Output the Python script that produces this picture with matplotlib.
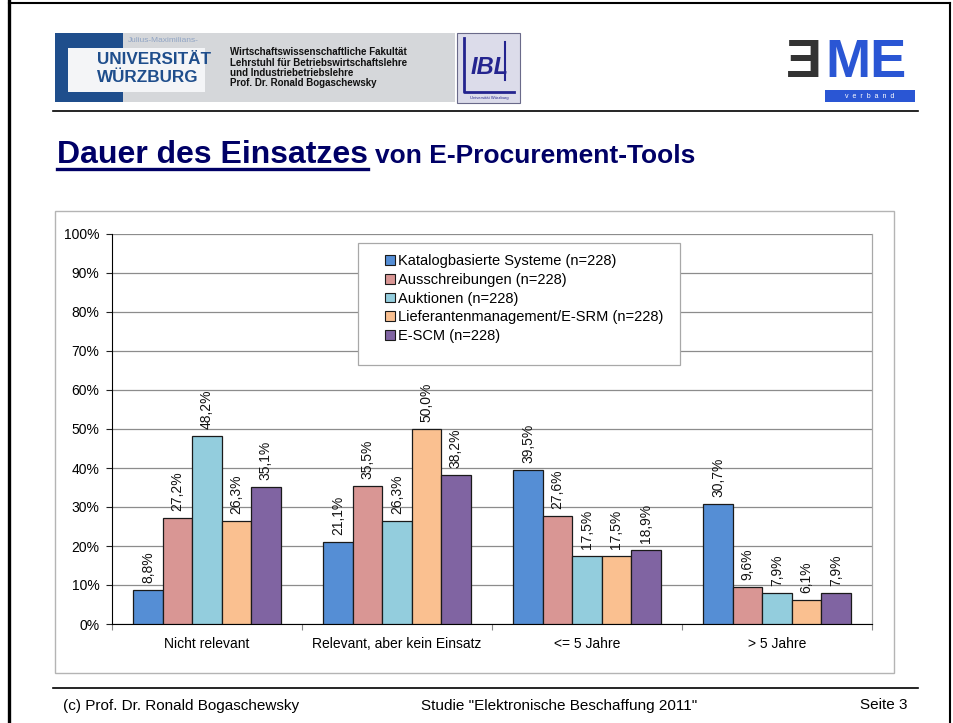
import matplotlib
matplotlib.use("Agg")
import matplotlib.pyplot as plt
from matplotlib.patches import Rectangle, Patch
from matplotlib.lines import Line2D
import numpy as np

plt.rcParams['font.family'] = ['Liberation Sans', 'DejaVu Sans']

# ---------------- data ----------------
categories = ["Nicht relevant", "Relevant, aber kein Einsatz", "<= 5 Jahre", "> 5 Jahre"]
series_names = ["Katalogbasierte Systeme (n=228)", "Ausschreibungen (n=228)", "Auktionen (n=228)",
                "Lieferantenmanagement/E-SRM (n=228)", "E-SCM (n=228)"]
katalog = [8.8, 21.1, 39.5, 30.7]
ausschreibungen = [27.2, 35.5, 27.6, 9.6]
auktionen = [48.2, 26.3, 17.5, 7.9]
lieferanten = [26.3, 50.0, 17.5, 6.1]
escm = [35.1, 38.2, 18.9, 7.9]
series_values = [katalog, ausschreibungen, auktionen, lieferanten, escm]
colors = ["#558ED5", "#D99694", "#93CDDD", "#FAC090", "#8064A2"]
ytick_vals = list(range(0, 101, 10))

W, H = 954, 723
fig = plt.figure(figsize=(W / 100, H / 100), dpi=100)


def fx(x):
    return x / W


def fy(y):
    return 1 - y / H


# ---------------- slide frame ----------------
fig.add_artist(Line2D([fx(9), fx(9)], [fy(0), fy(723)], color='black', lw=2.4))
fig.add_artist(Line2D([fx(9), fx(950)], [fy(2.5), fy(2.5)], color='black', lw=1.5))
fig.add_artist(Line2D([fx(950), fx(950)], [fy(2.5), fy(723)], color='black', lw=1.5))

# ---------------- header logos ----------------
# Wuerzburg logo
fig.add_artist(Rectangle((fx(55), fy(102)), fx(455) - fx(55), fy(33) - fy(102),
                         facecolor='#d5d7da', edgecolor='none'))
fig.add_artist(Rectangle((fx(55), fy(102)), fx(123) - fx(55), fy(33) - fy(102),
                         facecolor='#1f4e8c', edgecolor='none'))
fig.add_artist(Rectangle((fx(68), fy(92)), fx(205) - fx(68), fy(48) - fy(92),
                         facecolor='#f4f5f7', edgecolor='none'))
fig.text(fx(128), fy(40), "Julius-Maximilians-", fontsize=6, color='#90a4c4',
         ha='left', va='center')
fig.text(fx(97), fy(60), "UNIVERSITÄT", fontsize=12.3, fontweight='bold', color='#1f4e8c',
         ha='left', va='center')
fig.text(fx(97), fy(78), "WÜRZBURG", fontsize=12.3, fontweight='bold', color='#1f4e8c',
         ha='left', va='center')
hdr_lines = ["Wirtschaftswissenschaftliche Fakultät", "Lehrstuhl für Betriebswirtschaftslehre",
             "und Industriebetriebslehre", "Prof. Dr. Ronald Bogaschewsky"]
for k, t in enumerate(hdr_lines):
    fig.text(fx(230), fy(52 + k * 10.5), t, fontsize=7, fontweight='bold', color='#111111',
             ha='left', va='center')

# LIBL logo
fig.add_artist(Rectangle((fx(457), fy(103)), fx(520) - fx(457), fy(33) - fy(103),
                         facecolor='#dcdcea', edgecolor='#6a6a8a', lw=0.8))
fig.add_artist(Line2D([fx(464), fx(464), fx(514)], [fy(38), fy(92), fy(92)], color='#24248f', lw=2))
fig.text(fx(490), fy(68), "IBL", fontsize=17, fontweight='bold', fontstyle='italic',
         color='#24248f', ha='center', va='center')
fig.add_artist(Line2D([fx(505), fx(505)], [fy(80), fy(42)], color='#24248f', lw=1.5))
fig.text(fx(489), fy(97.5), "Universität Würzburg", fontsize=3, color='#24248f',
         ha='center', va='center')

# BME logo
fig.text(fx(786), fy(88), "Ǝ", fontsize=39, fontweight='bold', color='#333333',
         ha='left', va='bottom')
fig.text(fx(825), fy(88), "ME", fontsize=39, fontweight='bold', color='#2a56d4',
         ha='left', va='bottom')
fig.add_artist(Rectangle((fx(825), fy(102)), fx(915) - fx(825), fy(90) - fy(102),
                         facecolor='#2a56d4', edgecolor='none'))
fig.text(fx(870), fy(96.5), "v  e  r  b  a  n  d", fontsize=5, color='white',
         ha='center', va='center')

# header / footer rules
fig.add_artist(Line2D([fx(53), fx(918)], [fy(111), fy(111)], color='black', lw=1.2))
fig.add_artist(Line2D([fx(53), fx(918)], [fy(688), fy(688)], color='black', lw=1.2))

# ---------------- title ----------------
t1 = fig.text(fx(57), fy(163), "Dauer des Einsatzes", fontsize=23, fontweight='bold',
              color='#000066', ha='left', va='baseline')
fig.canvas.draw()
bb = t1.get_window_extent(renderer=fig.canvas.get_renderer())
x_end = bb.x1 / W
fig.add_artist(Line2D([fx(57), x_end], [fy(169), fy(169)], color='#000066', lw=2.4))
fig.text(x_end + fx(7), fy(163), "von E-Procurement-Tools", fontsize=19, fontweight='bold',
         color='#000066', ha='left', va='baseline')

# ---------------- footer ----------------
fig.text(fx(63), fy(706), "(c) Prof. Dr. Ronald Bogaschewsky", fontsize=11, ha='left', va='center')
fig.text(fx(559), fy(706), 'Studie "Elektronische Beschaffung 2011"', fontsize=11,
         ha='center', va='center')
fig.text(fx(908), fy(705), "Seite 3", fontsize=11, ha='right', va='center')

# ---------------- chart box ----------------
fig.add_artist(Rectangle((fx(55), fy(673)), fx(894) - fx(55), fy(211) - fy(673),
                         facecolor='none', edgecolor='#b4b4b4', lw=1))

# ---------------- chart ----------------
ax = fig.add_axes([fx(112), fy(624), fx(872) - fx(112), fy(234) - fy(624)])
x = np.arange(len(categories))
bw = 0.155
for i, (vals, col) in enumerate(zip(series_values, colors)):
    pos = x + (i - 2) * bw
    ax.bar(pos, vals, width=bw, color=col, edgecolor='#1a1a1a', lw=0.9, zorder=3)
    for p, v in zip(pos, vals):
        ax.annotate(f"{v:.1f}%".replace('.', ','), xy=(p, v), xytext=(0, 5),
                    textcoords='offset points', rotation=90, ha='center', va='bottom',
                    fontsize=10, color='#111111', zorder=4)

ax.set_xlim(-0.5, len(categories) - 0.5)
ax.set_ylim(0, 100)
ax.set_yticks(ytick_vals)
ax.set_yticklabels([f"{v}%" for v in ytick_vals], fontsize=10)
ax.set_xticks(np.arange(-0.5, len(categories), 1.0))
ax.set_xticklabels([])
ax.set_xticks(x, minor=True)
ax.set_xticklabels(categories, minor=True, fontsize=10)
ax.tick_params(axis='x', which='minor', length=0, pad=9)
ax.tick_params(axis='x', which='major', length=4, color='#888888', direction='out')
ax.tick_params(axis='y', length=4, color='#222222', pad=5)
ax.yaxis.grid(True, color='#8c8c8c', lw=0.9, zorder=0)
ax.set_axisbelow(True)
ax.spines['top'].set_visible(False)
ax.spines['right'].set_color('#a8a8a8')
ax.spines['right'].set_linewidth(0.9)
ax.spines['left'].set_color('black')
ax.spines['bottom'].set_color('black')

# legend
ax.add_patch(Rectangle((fx(358), fy(365)), fx(680) - fx(358), fy(243) - fy(365),
                       transform=fig.transFigure, facecolor='white', edgecolor='#a8a8a8',
                       lw=0.9, zorder=5, clip_on=False))
handles = [Patch(facecolor=c, edgecolor='#1a1a1a', lw=0.8) for c in colors]
leg = ax.legend(handles, series_names, loc='upper left', bbox_to_anchor=(fx(375), fy(244)),
                bbox_transform=fig.transFigure, frameon=False, fontsize=10.5,
                handlelength=0.65, handleheight=0.65, handletextpad=0.2, labelspacing=0.32,
                borderpad=0.2)
leg.set_zorder(6)

fig.savefig("out.png", dpi=100)
